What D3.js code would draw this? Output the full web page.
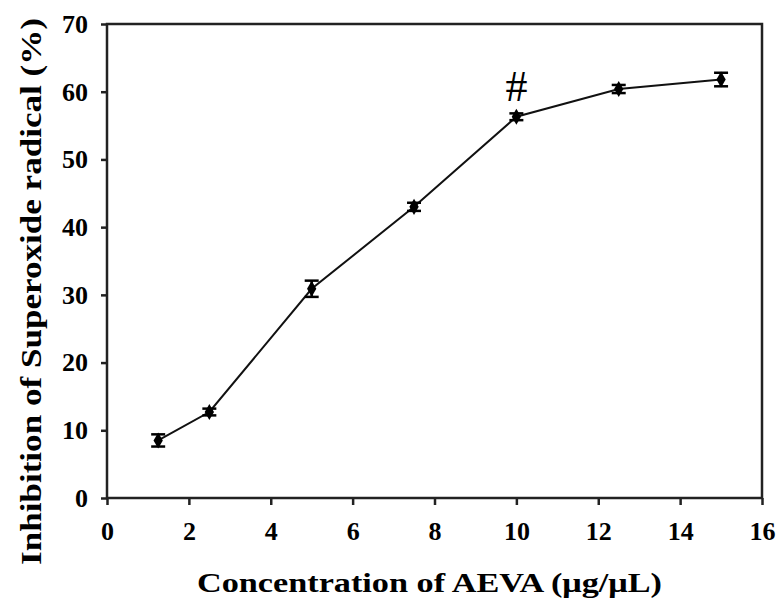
<!DOCTYPE html>
<html>
<head>
<meta charset="utf-8">
<script src="https://cdn.jsdelivr.net/npm/d3@7"></script>
<style>
  body { margin: 0; background: #fff; }
  text { font-family: "Liberation Serif", "Times New Roman", serif; font-weight: bold; fill: #000; }
</style>
</head>
<body>
<div class="chart"></div>
<script>
"use strict";

// DATA ----------------------------
const concentrations = [1.25, 2.5, 5, 7.5, 10, 12.5, 15];
const inhibition = [8.5, 12.7, 30.9, 43.0, 56.3, 60.4, 61.8];
const errors = [0.9, 0.5, 1.2, 0.6, 0.5, 0.6, 1.0];
const xTicks = [0, 2, 4, 6, 8, 10, 12, 14, 16];
const yTicks = [0, 10, 20, 30, 40, 50, 60, 70];
const marker = { x: 10, y: 58.7, text: "#" };

const MARGIN = { top: 24, right: 18, bottom: 105, left: 107 };
const WIDTH = 780 - MARGIN.left - MARGIN.right,
  HEIGHT = 603 - MARGIN.top - MARGIN.bottom;

// CHART INIT ----------------------------
const svg = d3
  .select(".chart")
  .append("svg")
  .attr("width", 780)
  .attr("height", 603)
  .append("g")
  .attr("transform", `translate(${MARGIN.left},${MARGIN.top})`);

const xScale = d3.scaleLinear().domain([0, 16]).range([0, WIDTH]);
const yScale = d3.scaleLinear().domain([0, 70]).range([HEIGHT, 0]);

// Axes
const xAxis = d3.axisBottom(xScale).tickValues(xTicks).tickSize(7).tickPadding(17);
const yAxis = d3.axisLeft(yScale).tickValues(yTicks).tickSize(6).tickPadding(13);

const xGroup = svg.append("g").attr("transform", `translate(0,${HEIGHT})`).call(xAxis);
const yGroup = svg.append("g").call(yAxis);

[xGroup, yGroup].forEach((g) => {
  g.select(".domain").remove();
  g.selectAll("line").attr("stroke", "#222").attr("stroke-width", 2.5);
  g.selectAll("text").attr("font-size", 26).attr("font-family", "Liberation Serif").attr("font-weight", "bold");
});

// frame
svg.append("rect")
  .attr("x", 0).attr("y", 0)
  .attr("width", WIDTH).attr("height", HEIGHT)
  .attr("fill", "none")
  .attr("stroke", "#222")
  .attr("stroke-width", 2.5);

// line
const pts = concentrations.map((c, i) => ({ x: c, y: inhibition[i], e: errors[i] }));
svg.append("path")
  .datum(pts)
  .attr("fill", "none")
  .attr("stroke", "#111")
  .attr("stroke-width", 2)
  .attr("d", d3.line().x((d) => xScale(d.x)).y((d) => yScale(d.y)));

// error bars
const eb = svg.selectAll(".err").data(pts).enter().append("g").attr("class", "err");
eb.append("line")
  .attr("x1", (d) => xScale(d.x)).attr("x2", (d) => xScale(d.x))
  .attr("y1", (d) => yScale(d.y - d.e)).attr("y2", (d) => yScale(d.y + d.e))
  .attr("stroke", "#000").attr("stroke-width", 2.5);
[-1, 1].forEach((s) => {
  eb.append("line")
    .attr("x1", (d) => xScale(d.x) - 7).attr("x2", (d) => xScale(d.x) + 7)
    .attr("y1", (d) => yScale(d.y + s * d.e)).attr("y2", (d) => yScale(d.y + s * d.e))
    .attr("stroke", "#000").attr("stroke-width", 2.5);
});

// markers
svg.selectAll(".pt").data(pts).enter().append("path")
  .attr("class", "pt")
  .attr("transform", (d) => `translate(${xScale(d.x)},${yScale(d.y)})`)
  .attr("d", d3.symbol().type(d3.symbolDiamond).size(75))
  .attr("fill", "#000");

// annotation
svg.append("text")
  .attr("x", xScale(marker.x))
  .attr("y", yScale(marker.y))
  .attr("text-anchor", "middle")
  .attr("font-size", 44)
  .style("font-weight", "normal")
  .text(marker.text);

// axis labels
svg.append("text")
  .attr("x", 197 - MARGIN.left)
  .attr("y", 592 - MARGIN.top)
  .attr("font-size", 28)
  .attr("textLength", 465)
  .attr("lengthAdjust", "spacingAndGlyphs")
  .text("Concentration of AEVA (μg/μL)");

svg.append("text")
  .attr("transform", `translate(${41 - MARGIN.left},${565 - MARGIN.top}) rotate(-90)`)
  .attr("font-size", 29)
  .attr("textLength", 547)
  .attr("lengthAdjust", "spacingAndGlyphs")
  .text("Inhibition of Superoxide radical (%)");
</script>
</body>
</html>
